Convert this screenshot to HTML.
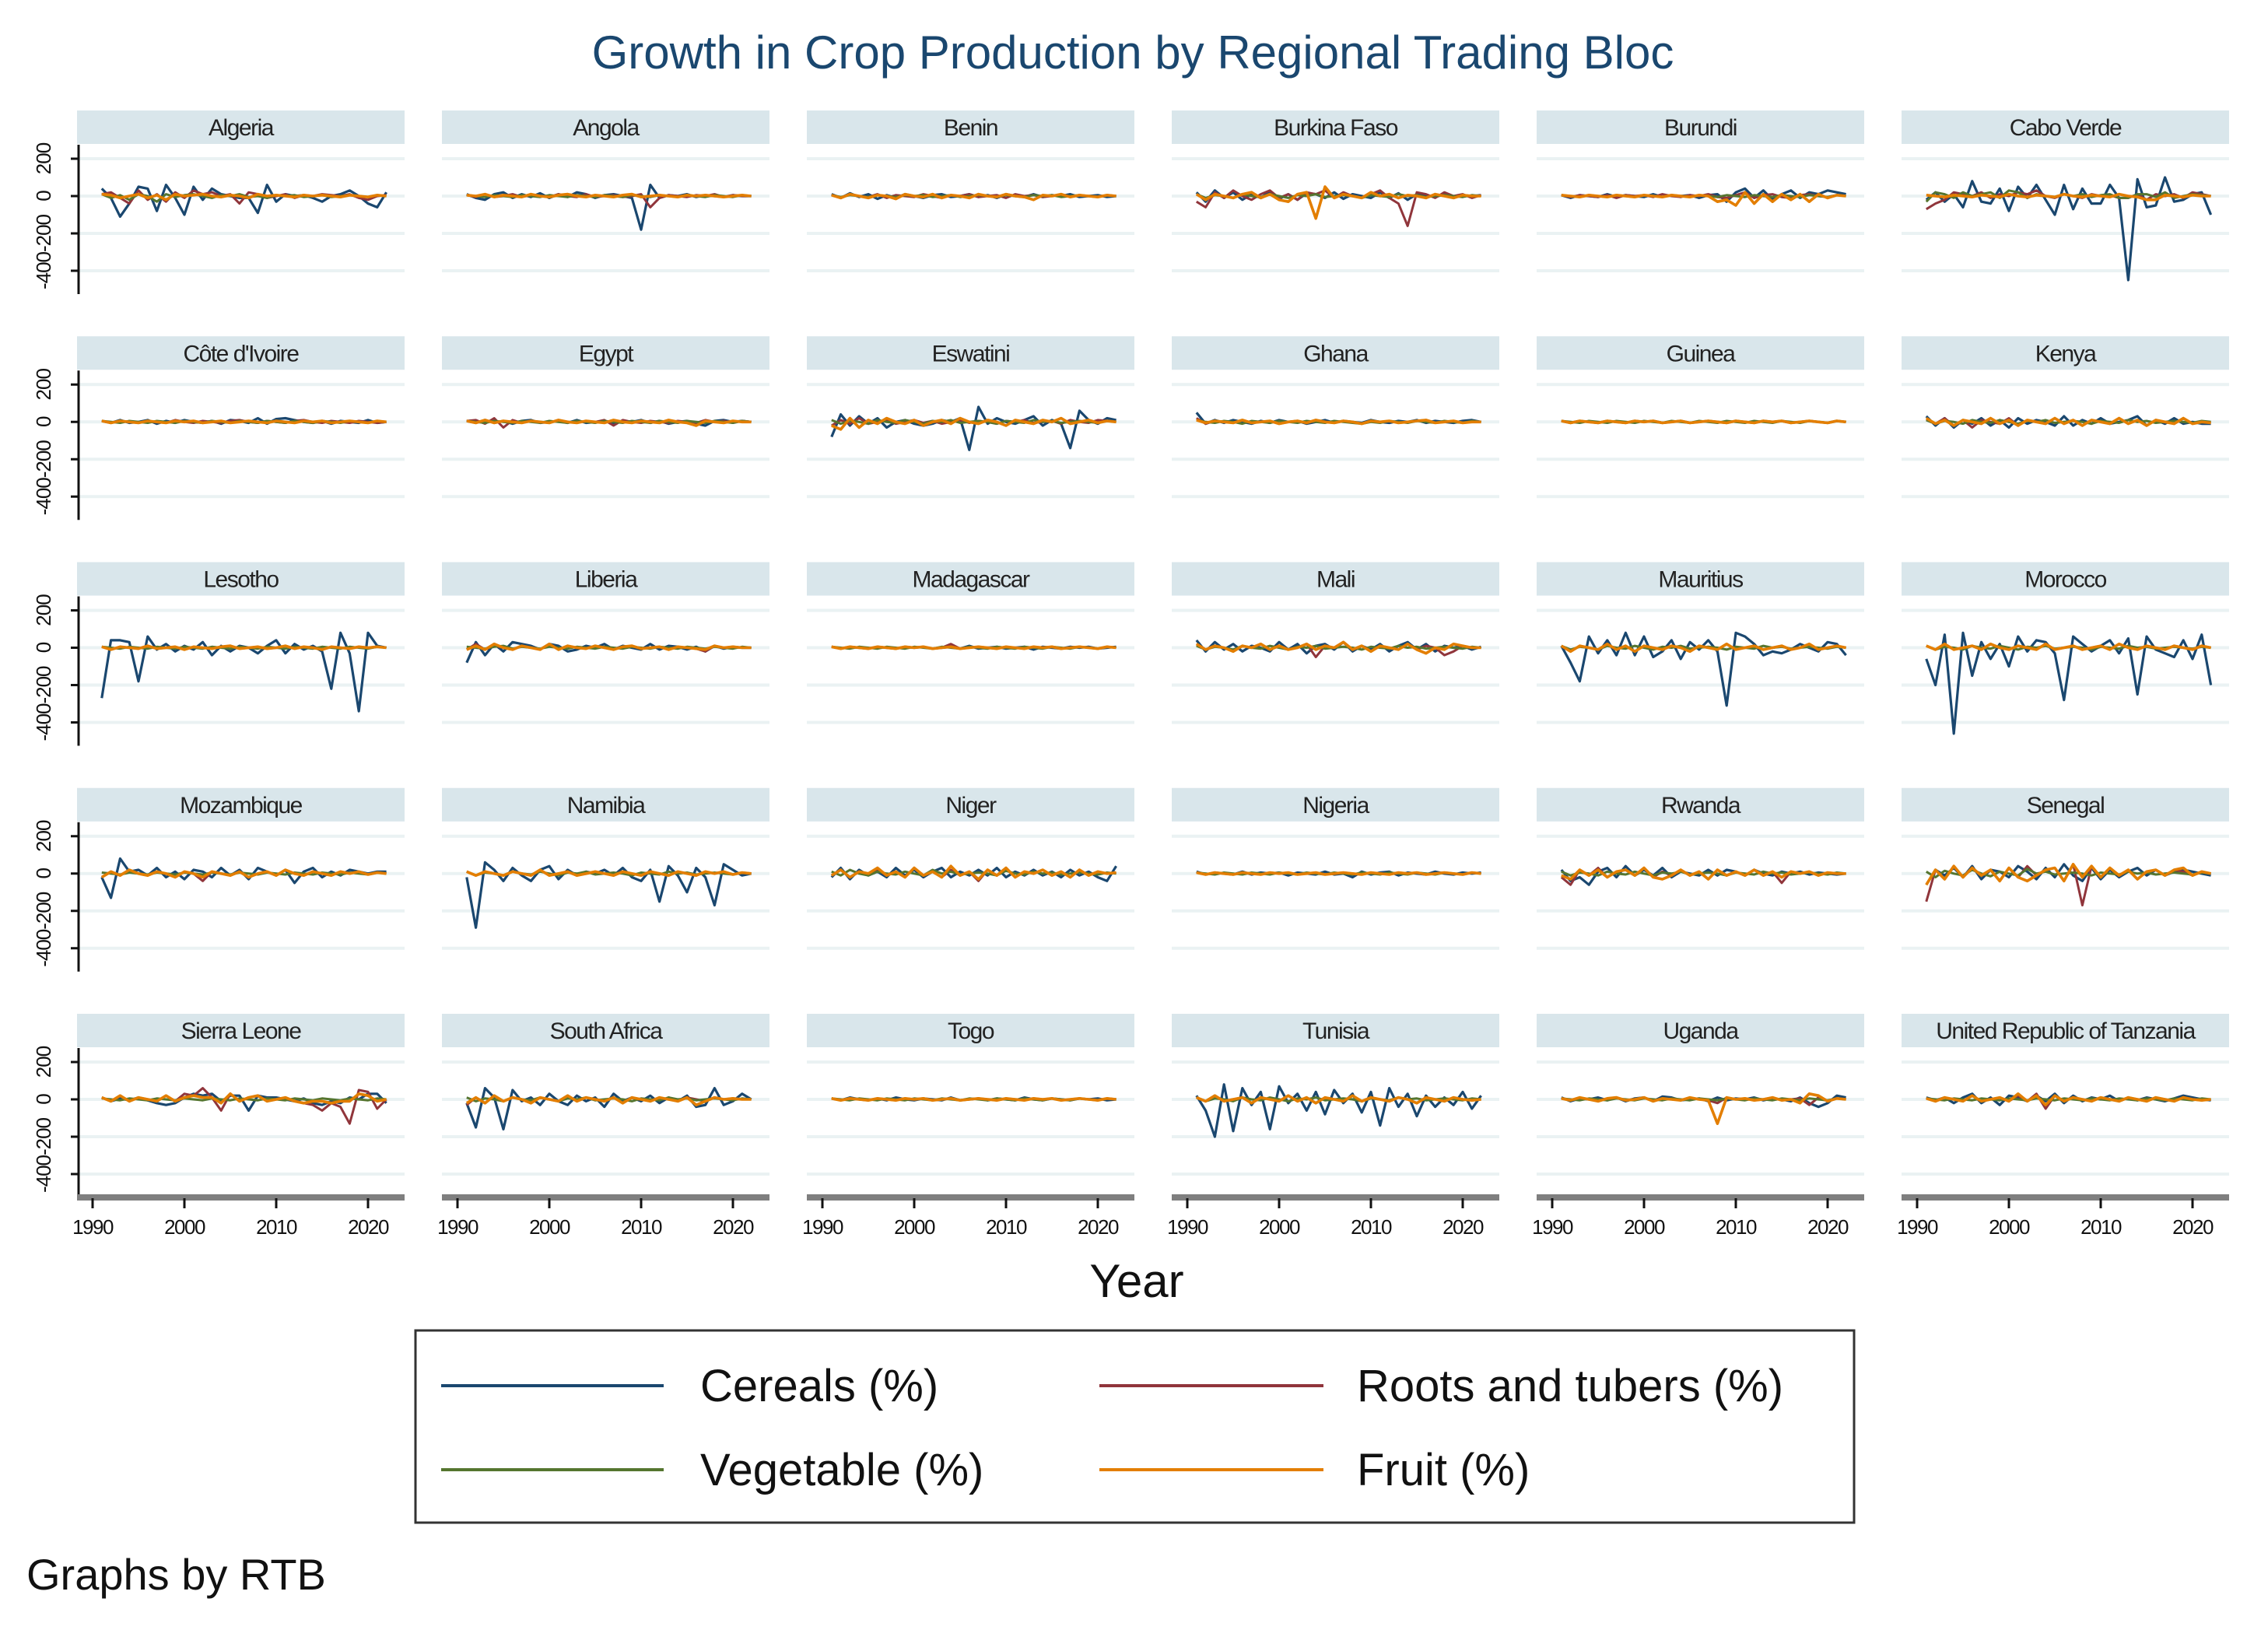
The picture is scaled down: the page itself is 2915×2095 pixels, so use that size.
<!DOCTYPE html>
<html><head><meta charset="utf-8">
<style>
html,body{margin:0;padding:0;background:#fff;}
svg{display:block;font-family:"Liberation Sans",Arial,sans-serif;}
</style></head>
<body>
<svg id="chart" width="2915" height="2095" viewBox="0 0 2915 2095" xmlns="http://www.w3.org/2000/svg">
<rect x="0" y="0" width="2915" height="2095" fill="#fff"/>
<text x="1456" y="88" text-anchor="middle" font-size="60" fill="#1a476f">Growth in Crop Production by Regional Trading Bloc</text>
<g id="panels"></g>
<text x="1461" y="1667" text-anchor="middle" font-size="60" fill="#111">Year</text>
<g transform="translate(-3,-9)">
<rect x="537" y="1719" width="1849" height="247" fill="#fff" stroke="#333" stroke-width="3"/>
<g><line x1="570" y1="1790" x2="856" y2="1790" stroke="#1a476f" stroke-width="4"/><text x="903" y="1810" font-size="58" fill="#111">Cereals (%)</text></g>
<g><line x1="1416" y1="1790" x2="1704" y2="1790" stroke="#90353b" stroke-width="4"/><text x="1747" y="1810" font-size="58" fill="#111">Roots and tubers (%)</text></g>
<g><line x1="570" y1="1898" x2="856" y2="1898" stroke="#55752f" stroke-width="4"/><text x="903" y="1918" font-size="58" fill="#111">Vegetable (%)</text></g>
<g><line x1="1416" y1="1898" x2="1704" y2="1898" stroke="#e37e00" stroke-width="4"/><text x="1747" y="1918" font-size="58" fill="#111">Fruit (%)</text></g>
</g>
<text x="34" y="2043" font-size="56" fill="#111">Graphs by RTB</text>
</svg>
<script>
const countries = ["Algeria","Angola","Benin","Burkina Faso","Burundi","Cabo Verde","Côte d'Ivoire","Egypt","Eswatini","Ghana","Guinea","Kenya","Lesotho","Liberia","Madagascar","Mali","Mauritius","Morocco","Mozambique","Namibia","Niger","Nigeria","Rwanda","Senegal","Sierra Leone","South Africa","Togo","Tunisia","Uganda","United Republic of Tanzania"];
const startYear = 1991;
const yTicks = [200,0,-200,-400];
const yTickLabels = ["200","0","-200","-400"];
const xTicks = [1990,2000,2010,2020];
const cereals = [
[40,-10,-110,-40,50,40,-80,60,-10,-100,50,-20,40,10,0,-10,-10,-90,60,-30,10,0,5,-10,-30,0,10,30,0,-40,-60,20],
[10,-10,-20,10,20,-10,10,-5,15,-10,10,-5,20,10,-10,5,10,0,-10,-180,60,-10,5,0,10,-5,5,0,-5,5,0,0],
[10,-10,15,-5,10,-15,5,-10,10,0,-10,5,10,-5,0,10,-5,5,-10,10,0,-5,10,-5,5,0,10,-5,0,5,-5,0],
[20,-30,30,-10,20,-20,10,-10,25,-15,10,-20,15,10,-10,20,-15,10,0,-10,20,-10,15,-20,10,5,-5,10,-10,5,0,5],
[5,-10,5,0,-5,10,-5,5,0,-5,10,-5,5,0,5,-10,5,10,-30,20,40,-10,30,-20,10,30,-10,20,10,30,20,10],
[-20,20,-30,10,-60,80,-30,-40,40,-80,50,-10,60,-20,-100,60,-70,40,-40,-40,60,-10,-450,90,-60,-50,100,-30,-20,10,20,-100],
[5,-5,10,-5,0,10,-10,5,-5,10,0,-5,5,-10,10,5,-5,20,-10,15,20,10,0,-5,5,-10,5,0,-5,10,-5,0],
[5,-5,10,-5,5,-10,5,10,-5,0,5,-5,10,-5,0,5,-10,5,0,10,-5,5,-10,0,5,-10,-20,5,10,0,5,0],
[-80,40,-20,30,-10,20,-30,0,10,-10,-20,-10,10,0,20,-150,80,-10,20,0,-10,10,30,-20,10,-10,-140,60,10,-10,20,10],
[50,-10,10,-5,10,0,-10,5,-5,10,0,5,-10,0,10,-5,5,0,-5,10,0,-5,5,0,10,-5,5,0,-5,5,10,0],
[5,-5,5,0,-5,5,0,-5,5,0,5,-5,0,5,-5,0,5,0,-5,5,0,-5,5,0,5,-5,0,5,0,-5,5,0],
[30,-20,20,-30,10,-10,20,-20,10,-30,20,-10,10,0,-20,30,-20,10,-10,20,-10,0,10,30,-20,10,-10,20,-10,0,-10,-10],
[-270,40,40,30,-180,60,-10,20,-20,10,-10,30,-40,10,-20,10,0,-30,10,40,-30,20,-10,10,-20,-220,80,-30,-340,80,10,0],
[-80,30,-40,20,-20,30,20,10,-10,20,10,-20,-10,10,0,20,-10,10,0,-10,20,-10,10,5,-10,5,-20,10,-5,5,0,0],
[5,-5,5,0,-5,5,0,-5,5,0,5,-5,0,5,-5,10,-5,0,5,-5,0,5,-10,5,0,-5,5,0,5,-5,0,5],
[40,-20,30,-10,20,-20,10,0,-20,30,-10,20,-30,10,20,-10,30,-20,10,-10,20,-20,10,30,-10,20,-20,10,0,10,-10,5],
[10,-80,-180,60,-30,40,-40,80,-40,60,-50,-20,40,-60,30,-10,40,-20,-310,80,60,20,-40,-20,-30,-10,20,0,-20,30,20,-40],
[-60,-200,70,-460,80,-150,30,-60,20,-100,60,-20,40,30,-30,-280,60,20,-20,10,40,-30,50,-250,60,-10,-30,-50,40,-60,70,-200],
[-20,-130,80,10,20,-10,30,-20,10,-30,20,10,-20,30,-10,20,-30,30,10,-10,20,-50,10,30,-20,10,-10,20,10,0,10,10],
[-20,-290,60,20,-40,30,-10,-40,20,40,-30,20,-10,10,0,20,-10,30,-20,-40,20,-150,40,-10,-100,30,-20,-170,50,20,-10,0],
[-20,30,-30,20,-10,10,-20,30,-10,20,-20,10,30,-20,10,-10,20,-10,30,-20,10,-10,20,-10,10,-20,20,-10,10,-20,-40,40],
[10,-5,5,0,-5,10,-5,5,0,5,-10,5,0,-5,10,-5,0,-20,10,-5,5,10,-10,5,0,-5,10,0,-5,5,0,5],
[20,-40,-20,-60,10,30,-20,40,-10,20,-10,30,-20,10,0,-10,20,-10,20,10,-10,20,0,-10,10,0,10,-5,5,0,-5,0],
[-60,20,-10,30,-20,40,-30,20,10,-20,40,10,-30,30,-20,50,-10,-40,30,-30,20,-20,10,30,-10,20,-10,10,20,10,0,-10],
[10,-10,5,-5,10,-5,-20,-30,-20,10,30,20,30,-10,20,20,-60,20,10,10,0,-10,5,-20,-30,-10,-20,10,0,30,30,-20],
[-20,-150,60,10,-160,50,-10,10,-30,30,-10,-30,20,-10,10,-40,30,-10,10,-10,20,-20,10,-10,20,-40,-30,60,-30,-10,30,0],
[5,-5,10,0,-5,5,-5,10,0,-5,5,0,-5,10,-5,0,5,-5,5,0,-5,10,0,-5,5,0,-5,5,0,5,-5,0],
[20,-60,-200,80,-170,60,-30,40,-160,70,-20,30,-60,40,-80,50,-20,30,-70,40,-140,60,-40,30,-90,20,-40,10,-30,40,-50,20],
[10,-10,5,0,10,-5,10,-10,5,10,-10,15,10,-5,0,5,-10,10,-5,5,0,10,-5,5,0,-10,10,-20,-40,-20,20,10],
[10,-5,10,-20,10,30,-20,10,-30,20,10,-10,20,-10,30,-20,20,-10,10,0,20,-10,10,-5,10,0,-10,5,20,10,0,-5]
];
const roots = [
[10,20,-10,-40,30,-20,10,-30,20,-10,30,10,20,0,10,-40,20,10,-10,0,10,-10,5,0,10,5,0,10,-10,-20,0,5],
[5,-5,10,-5,0,10,-5,5,0,-5,10,0,-5,10,-5,0,5,-5,0,10,-60,-10,5,0,-5,5,0,10,-5,5,0,0],
[5,-10,10,0,-5,10,-10,5,0,-5,10,0,-10,5,0,10,-5,0,5,-10,10,0,5,-5,0,10,-5,5,0,-5,5,0],
[-30,-60,20,-10,30,0,-20,10,30,-10,10,-20,20,10,30,-10,20,0,-10,10,30,-10,-40,-160,20,10,-10,20,0,10,-10,5],
[5,-5,5,0,-5,5,-10,5,0,5,-5,10,0,-5,5,0,10,-5,-10,5,20,-10,5,10,-5,-10,5,10,0,-5,5,0],
[-70,-40,-20,20,10,0,20,-10,10,0,20,10,30,0,-10,10,0,-10,10,0,5,-10,-10,10,-20,10,0,10,-10,20,10,0],
[5,-5,5,0,-5,5,0,-5,10,0,-5,5,0,-5,5,10,0,-5,5,0,-5,5,10,0,-5,5,0,-5,5,0,-5,0],
[5,10,-10,20,-30,10,-5,5,0,-5,10,0,-5,5,0,10,-20,10,0,-5,5,0,-5,5,0,-5,10,0,5,-5,5,0],
[-20,10,-10,20,-10,0,10,-10,0,10,-5,5,-10,0,10,-5,5,0,-10,5,0,10,-5,0,5,-10,10,0,-5,10,5,0],
[20,-10,5,0,-5,10,-5,0,5,-10,0,5,-5,10,0,-5,5,0,-10,5,0,5,-5,0,5,10,-5,0,5,-5,0,0],
[5,-5,5,0,-5,5,0,-5,5,0,5,-5,0,5,-5,0,5,0,-5,5,0,-5,5,0,5,-5,0,5,0,-5,5,0],
[10,-10,20,-20,10,-30,10,0,-10,20,-20,10,0,-10,20,-10,10,-20,10,0,-10,20,-10,10,-20,10,0,-10,20,-10,0,-5],
[5,-10,5,0,-5,10,-5,0,5,-10,5,0,-5,5,10,-5,0,5,-5,0,10,-5,5,0,-10,5,0,-5,5,0,5,0],
[-10,20,-10,10,0,-10,10,0,-10,20,-10,10,0,-5,10,0,-10,5,10,-5,0,5,-10,5,0,-5,-20,10,0,5,0,0],
[5,-5,5,0,-5,5,0,-5,5,0,5,-5,0,20,-5,0,5,0,-5,5,0,-5,5,0,5,-5,0,5,0,-5,5,0],
[20,-10,10,0,-20,10,0,20,-10,10,-10,0,20,-50,10,0,30,-10,10,-20,10,0,-10,20,-10,10,0,-40,-20,10,0,0],
[10,-20,10,0,-10,20,-10,10,-20,10,0,-10,10,0,-20,10,0,-10,20,-10,0,10,-10,0,10,-10,0,20,-10,0,10,0],
[10,-10,20,-10,0,10,-10,20,0,-10,10,0,-10,20,-10,0,10,-10,0,10,-10,20,0,-10,10,0,-10,10,0,-10,10,0],
[-20,10,-10,20,0,-10,10,0,-20,10,0,-40,10,0,-10,10,-20,0,10,-10,20,0,-10,10,0,-10,10,0,10,-5,5,0],
[10,-10,10,0,-10,10,0,-10,20,-10,0,10,-10,0,10,0,-10,10,0,-10,10,0,-10,10,0,-10,10,0,10,-5,5,0],
[-10,20,-20,10,0,20,-10,10,-20,30,-10,10,-20,20,-10,10,-40,20,-10,30,-20,10,0,20,-10,10,-20,20,-10,10,0,5],
[5,-5,5,0,-5,5,0,-5,5,0,5,-5,0,5,-5,0,5,0,-5,5,0,-5,5,0,5,-5,0,5,0,-5,5,0],
[-20,-60,20,-10,30,-20,10,20,-10,30,-20,10,-10,20,-10,10,-30,20,-10,10,-10,20,-10,10,-50,10,0,10,-10,5,0,0],
[-150,20,-30,40,-20,30,-10,20,-40,30,-20,40,-10,20,30,-40,50,-170,40,-20,30,-10,20,-30,10,20,-10,20,10,-10,10,0],
[10,-10,20,-10,10,0,-10,20,-10,30,20,60,10,-60,30,-10,10,20,-10,0,10,-10,-20,-30,-60,-20,-40,-130,50,40,-50,0],
[-30,10,-20,20,-10,10,0,-20,10,0,-10,20,-10,10,0,-10,10,-20,10,0,-10,10,0,-10,10,0,-10,10,0,5,0,0],
[5,-5,5,0,-5,5,0,-5,5,0,5,-5,0,5,-5,0,5,0,-5,5,0,-5,5,0,5,-5,0,5,0,-5,5,0],
[10,-10,20,-10,0,10,-20,10,0,-10,20,-10,10,-20,10,0,-10,20,-10,10,0,-10,10,0,-20,10,0,-10,10,0,-5,0],
[5,-5,10,0,-10,5,10,-5,0,10,-10,5,0,-5,10,0,-5,-20,10,0,5,-5,0,10,-5,0,5,-30,10,-10,5,0],
[5,-10,10,0,-10,20,-10,0,10,-10,20,-10,30,-50,20,-10,10,0,-10,10,0,-10,10,0,-10,10,0,-10,10,0,-5,0]
];
const vegetable = [
[10,-10,5,-20,10,0,-30,10,-5,5,10,0,-10,5,0,10,-5,0,-10,5,0,5,-5,0,5,-5,0,5,0,-5,5,0],
[5,0,-5,5,0,-5,5,0,-5,5,0,-5,5,0,-5,5,0,-5,5,0,-5,5,0,-5,5,0,-5,5,0,-5,5,0],
[5,-5,5,0,-5,5,0,-5,5,0,5,-5,0,5,-5,0,5,0,-5,5,0,-5,5,0,5,-5,0,5,0,-5,5,0],
[10,-10,5,0,-10,10,0,-5,10,0,-10,5,0,10,-5,0,5,0,-10,5,0,-5,10,0,5,-5,0,5,0,-5,5,0],
[5,0,-5,5,0,-5,5,0,-5,5,0,-5,5,0,-5,5,0,-5,5,0,-5,5,0,-5,5,0,-5,5,0,-5,5,0],
[-30,20,10,-10,20,0,10,20,-10,30,20,-10,10,0,-5,10,0,10,-5,5,10,-10,-10,10,10,-5,20,-10,0,10,5,0],
[5,0,-5,5,0,-5,5,0,-5,5,0,-5,5,0,-5,5,0,-5,5,0,-5,5,0,-5,5,0,-5,5,0,-5,5,0],
[5,0,-5,5,0,-5,5,0,-5,5,0,-5,5,0,-5,5,0,-5,5,0,-5,5,0,-5,5,0,-5,5,0,-5,5,0],
[10,-10,5,0,-10,10,0,-5,10,0,-10,5,0,10,-5,0,5,0,-10,5,0,-5,10,0,5,-5,0,5,0,-5,5,0],
[10,0,-5,5,0,-10,5,0,-5,5,0,-5,5,0,-5,5,0,-5,-10,0,-5,5,0,-5,5,0,-5,5,0,-5,5,0],
[5,0,-5,5,0,-5,5,0,-5,5,0,-5,5,0,-5,5,0,-5,5,0,-5,5,0,-5,5,0,-5,5,0,-5,5,0],
[10,-10,5,0,-10,10,0,-5,10,0,-10,5,0,10,-5,0,5,0,-10,5,0,-5,10,0,5,-5,0,5,0,-5,5,0],
[5,0,-5,5,0,-5,5,0,-5,5,0,-5,5,0,-5,5,0,-5,5,0,-5,5,0,-5,5,0,-5,5,0,-5,5,0],
[5,0,-5,5,10,-5,5,0,-5,5,0,-5,5,0,-5,5,0,-5,5,0,-5,5,0,-5,5,0,-5,5,0,-5,5,0],
[5,0,-5,5,0,-5,5,0,-5,5,0,-5,5,0,-5,5,0,-5,5,0,-5,5,0,-5,5,0,-5,5,0,-5,5,0],
[10,-10,5,0,-10,10,0,-5,10,0,-10,5,0,10,-5,0,5,0,-10,5,0,-5,10,0,5,-5,0,5,0,-5,5,0],
[10,-10,5,0,-10,10,0,-5,10,0,-10,5,0,10,-5,0,5,0,-10,5,0,-5,10,0,5,-5,0,5,0,-5,5,0],
[10,-10,5,0,-10,10,0,-5,10,0,-10,5,0,10,-5,0,5,0,-10,5,0,-5,10,0,5,-5,0,5,0,-5,5,0],
[5,0,-5,5,0,-5,5,0,-5,5,0,-5,5,0,-5,5,0,-5,5,0,-5,5,0,-5,5,0,-5,5,0,-5,5,0],
[10,-10,5,0,-10,10,0,-5,10,0,-10,5,0,10,-5,0,5,0,-10,5,0,-5,10,0,5,-5,0,5,0,-5,5,0],
[10,-10,20,0,-10,10,0,-5,10,0,-10,20,0,10,-5,0,5,0,-10,15,0,-5,10,0,5,-5,0,5,0,-5,5,0],
[5,0,-5,5,0,-5,5,0,-5,5,0,-5,5,0,-5,5,0,-5,5,0,-5,5,0,-5,5,0,-5,5,0,-5,5,0],
[10,-10,5,0,-10,10,0,-5,10,0,-10,5,0,10,-5,0,5,0,-10,5,0,-5,10,0,5,-5,0,5,0,-5,5,0],
[10,-20,15,0,-10,20,0,-15,10,0,-10,25,0,10,-5,0,5,0,-10,5,0,-5,10,0,5,-5,0,5,0,-5,5,0],
[5,0,-5,5,0,-5,5,0,-5,5,0,-5,5,0,-5,5,0,-5,5,0,-5,5,0,-5,5,0,-5,5,0,-5,5,0],
[10,-10,5,0,-10,10,0,-5,10,0,-10,5,0,10,-5,0,5,0,-10,5,0,-5,10,0,5,-5,0,5,0,-5,5,0],
[5,0,-5,5,0,-5,5,0,-5,5,0,-5,5,0,-5,5,0,-5,5,0,-5,5,0,-5,5,0,-5,5,0,-5,5,0],
[10,-10,5,0,-10,10,0,-5,10,0,-10,5,0,10,-5,0,5,0,-10,5,0,-5,10,0,5,-5,0,5,0,-5,5,0],
[5,0,-5,5,0,-5,5,0,-5,5,0,-5,5,0,-5,5,0,-5,5,0,-5,5,0,-5,5,0,-5,5,0,-5,5,0],
[5,0,-5,5,0,-5,5,0,-5,5,0,-5,5,0,-5,5,0,-5,5,0,-5,5,0,-5,5,0,-5,5,0,-5,5,0]
];
const fruit = [
[10,5,-10,0,10,-10,5,-20,10,0,5,10,0,-5,5,0,-10,10,0,5,0,-5,5,0,5,0,-5,5,0,-5,5,0],
[5,0,10,-5,5,0,-5,10,0,-5,5,10,0,-5,5,0,-5,5,10,-5,0,5,0,-5,5,0,5,0,-5,0,5,0],
[5,-10,10,0,-10,5,0,-15,10,0,-5,10,-10,5,0,-10,10,0,-5,10,0,-5,-20,5,0,10,-5,5,0,-5,5,0],
[10,-20,10,0,-10,10,20,-10,10,-20,-30,10,20,-120,50,-10,10,0,-10,20,0,10,-10,5,0,-10,10,0,-10,5,0,0],
[5,0,-5,5,0,-5,5,0,-5,5,0,-5,5,0,-5,5,0,-30,-20,-50,20,-40,10,-30,10,-20,10,-30,10,-10,5,0],
[5,0,-5,5,0,-5,5,0,-5,10,0,-5,5,0,-5,10,0,-5,5,0,-5,10,0,-5,-20,-20,5,0,-5,5,0,0],
[5,-5,5,0,-5,5,0,-5,5,0,5,-5,0,5,-5,0,5,0,-5,5,0,-5,5,0,5,-5,0,5,0,-5,5,0],
[5,-5,10,-5,5,0,-5,5,0,-5,10,0,-5,5,0,-5,10,0,-5,5,0,-5,10,0,-5,-20,5,0,-5,5,0,0],
[-20,-40,20,-30,10,-10,20,0,-10,10,-20,0,10,-10,20,0,-10,10,0,-20,10,0,-10,10,0,20,-10,0,10,-5,5,0],
[10,-5,5,0,-5,10,-5,0,5,-10,0,5,-5,10,0,-5,5,0,-10,5,0,5,-5,0,5,10,-5,0,5,-5,0,0],
[5,-5,5,0,-5,5,0,-5,5,0,5,-5,0,5,-5,0,5,0,-5,5,0,-5,5,0,5,-5,0,5,0,-5,5,0],
[20,-10,10,-20,10,0,-10,20,-10,10,-20,10,0,-10,20,-10,10,-20,10,0,-10,20,-10,10,-20,10,0,-10,20,-10,0,-5],
[5,-10,5,0,-5,10,-5,0,5,-10,5,0,-5,5,10,-5,0,5,-5,0,10,-5,5,0,-10,5,0,-5,5,0,5,0],
[-10,10,-10,20,0,-10,10,0,-10,20,-10,10,0,-5,10,0,-10,5,10,-5,0,5,-10,5,0,-5,-10,10,0,5,0,0],
[5,-5,5,0,-5,5,0,-5,5,0,5,-5,0,5,-5,0,5,0,-5,5,0,-5,5,0,5,-5,0,5,0,-5,5,0],
[20,-10,10,0,-20,10,0,20,-10,10,-10,0,20,-10,10,0,30,-10,10,-20,10,0,-10,20,-10,-30,0,-10,20,10,0,0],
[10,-20,10,0,-10,20,-10,10,-20,10,0,-10,10,0,-20,10,0,-10,20,-10,0,10,-10,0,10,-10,0,20,-10,0,10,0],
[10,-10,20,-10,0,10,-10,20,0,-10,10,0,-10,20,-10,0,10,-10,0,10,-10,20,0,-10,10,0,-10,10,0,-10,10,0],
[-20,10,-10,20,0,-10,10,0,-20,10,0,-20,10,0,-10,10,-20,0,10,-10,20,0,-10,10,0,-10,10,0,10,-5,5,0],
[10,-10,10,0,-10,10,0,-10,20,-10,0,10,-10,0,10,0,-10,10,0,-10,10,0,-10,10,0,-10,10,0,10,-5,5,0],
[-10,20,-20,10,0,30,-10,10,-20,30,-10,10,-20,40,-10,10,-30,20,-10,30,-20,10,0,20,-10,10,-20,20,-10,10,0,5],
[5,-5,5,0,-5,5,0,-5,5,0,5,-5,0,5,-5,0,5,0,-5,5,0,-5,5,0,5,-5,0,5,0,-5,5,0],
[-10,-30,20,-10,20,-20,10,20,-10,30,-20,-30,-10,20,-10,10,-30,20,-10,10,-10,20,-10,10,-20,10,0,10,-10,5,0,0],
[-60,20,-30,40,-20,30,-10,20,-40,30,-20,-40,-10,20,30,-40,50,-20,40,-20,30,-10,20,-30,10,20,-10,20,30,-10,10,0],
[10,-10,20,-10,10,0,-10,20,-10,10,20,10,10,-20,30,-10,10,20,-10,0,10,-10,-20,-10,-10,-20,-10,-10,30,20,-10,0],
[-20,10,-20,20,-10,10,0,-20,10,0,-10,20,-10,10,0,-10,10,-20,10,0,-10,10,0,-10,10,-30,-10,10,0,5,0,0],
[5,-5,5,0,-5,5,0,-5,5,0,5,-5,0,5,-5,0,5,0,-5,5,0,-5,5,0,5,-5,0,5,0,-5,5,0],
[10,-10,20,-10,0,10,-20,10,0,-10,20,-10,10,-20,10,0,-10,20,-10,10,0,-10,10,0,-20,10,0,-10,10,0,-5,0],
[5,-5,10,0,-10,5,10,-5,0,10,-10,5,0,-5,10,0,-5,-130,10,0,5,-5,0,10,-5,0,-20,30,20,-10,5,0],
[5,-10,10,0,-10,20,-10,0,10,-10,30,-10,20,-30,20,-10,10,0,-10,10,0,-10,10,0,-10,10,0,-10,10,0,-5,0]
];
const seriesList = [cereals, roots, vegetable, fruit];
const seriesNames = ["cereals","roots","vegetable","fruit"];
const seriesColors = ["#1a476f","#90353b","#55752f","#e37e00"];
const seriesWidths = [3.2,3,3,3.6];

const NS = "http://www.w3.org/2000/svg";
const panels = document.getElementById("panels");
const colLeft = c => 99 + c*469;
const panelW = 421;
const rowStep = 290.25;
function mk(tag, attrs, parent){ const e=document.createElementNS(NS,tag); for(const k in attrs) e.setAttribute(k,attrs[k]); parent.appendChild(e); return e; }
function xScale(left, year){ return left + 20 + (year-1990)*11.8; }
function yScale(zero, v){ return zero - v*0.24; }

countries.forEach((name, i) => {
  const c = i % 6, r = Math.floor(i/6);
  const left = colLeft(c);
  const stripTop = 142 + r*rowStep;
  const zero = 252 + r*rowStep;
  const g = mk("g", {}, panels);
  
  
  const strip = mk("rect", {x:left, y:stripTop, width:panelW, height:43, fill:"#d9e6eb"}, g);
  
  
  const st = mk("text", {x:left+panelW/2, y:stripTop+32, "text-anchor":"middle", "font-size":30, fill:"#222", "letter-spacing":"-1.5"}, g);
  st.textContent = name;
  
  
  yTicks.forEach(t => {
    const gl = mk("line", {x1:left, x2:left+panelW, y1:yScale(zero,t), y2:yScale(zero,t), stroke:"#eaf2f3", "stroke-width":4}, g);
    
    
  });
  if (c === 0) {
    const bottom = r === 4 ? 1540 : stripTop + 236;
    const ax = mk("line", {x1:left+2, x2:left+2, y1:stripTop+44, y2:bottom, stroke:"#111", "stroke-width":3}, g);
    
    
    yTicks.forEach((t, k) => {
      const y = yScale(zero,t);
      const tk = mk("line", {x1:left-8, x2:left+2, y1:y, y2:y, stroke:"#111", "stroke-width":3}, g);
      
      
      const lb = mk("text", {x:0, y:0, "text-anchor":"middle", "font-size":26, fill:"#111", transform:`translate(${left-34},${y}) rotate(-90)`, "letter-spacing":"-1"}, g);
      lb.textContent = yTickLabels[k];
      
      
    });
  }
  if (r === 4) {
    const xa = mk("rect", {x:left, y:1535, width:panelW, height:8, fill:"#7f7f7f"}, g);
    
    
    xTicks.forEach(t => {
      const x = xScale(left,t);
      const tk = mk("line", {x1:x, x2:x, y1:1540, y2:1553, stroke:"#111", "stroke-width":3}, g);
      
      
      const lb = mk("text", {x:x, y:1586, "text-anchor":"middle", "font-size":26, fill:"#111", "letter-spacing":"-1.5"}, g);
      lb.textContent = String(t);
      
      
    });
  }
  seriesList.forEach((s, k) => {
    const vals = s[i];
    const pts = vals.map((v, j) => xScale(left, startYear+j).toFixed(1) + "," + yScale(zero, v).toFixed(1)).join(" ");
    const pl = mk("polyline", {points:pts, fill:"none", stroke:seriesColors[k], "stroke-width":seriesWidths[k], "stroke-linejoin":"round"}, g);
    
    
  });
});
</script>
</body></html>
